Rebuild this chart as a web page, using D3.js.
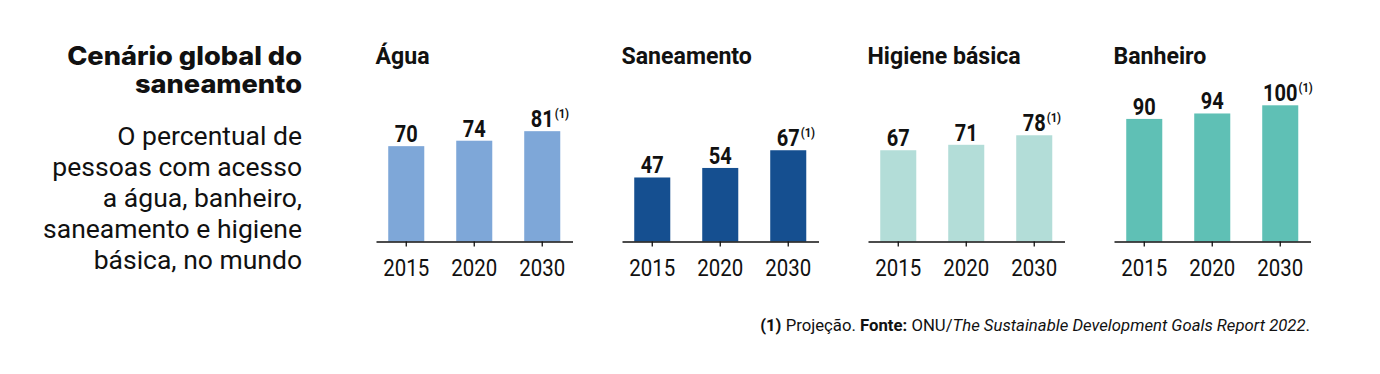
<!DOCTYPE html>
<html><head><meta charset="utf-8">
<script src="https://cdn.jsdelivr.net/npm/d3@7"></script>
<style>
html,body{margin:0;padding:0;background:#fff;}
svg{display:block;}
</style></head>
<body>
<svg id="chart" width="1380" height="374"></svg>
<script>
// ---- data ----
const years = ["2015", "2020", "2030"];
const panelTitles = ["Água", "Saneamento", "Higiene básica", "Banheiro"];
const agua = [70, 74, 81];
const saneamento = [47, 54, 67];
const higiene = [67, 71, 78];
const banheiro = [90, 94, 100];
const projectedYear = "2030";
const titleLines = ["Cenário global do", "saneamento"];
const subtitleLines = ["O percentual de", "pessoas com acesso", "a água, banheiro,", "saneamento e higiene", "básica, no mundo"];

const series = [agua, saneamento, higiene, banheiro];
const colors = ["#7ea7d8", "#154f90", "#b3ddd8", "#5fc0b5"];

const svg = d3.select("#chart");
const ROB = "Roboto, 'Noto Sans', sans-serif";
const INTER = "Inter, Roboto, sans-serif";

function scaleFor(sample, target, attrs) {
  const t = svg.append("text").text(sample);
  Object.entries(attrs).forEach(([k, v]) => t.attr(k, v));
  const w = t.node().getComputedTextLength();
  t.remove();
  return target / w;
}
function putText(parent, x, y, txt, attrs, sx) {
  const g = parent.append("g").attr("transform", `translate(${x},${y}) scale(${sx},1)`);
  const t = g.append("text").text(txt);
  Object.entries(attrs).forEach(([k, v]) => t.attr(k, v));
  return t;
}

const titleStyle = {"font-family": INTER, "font-weight": 800, "font-size": 25.5, "fill": "#111", "text-anchor": "end"};
const subStyle = {"font-family": ROB, "font-weight": 400, "font-size": 25.5, "fill": "#111", "text-anchor": "end"};
const panelStyle = {"font-family": ROB, "font-weight": 700, "font-size": 23.5, "fill": "#111"};
const valStyle = {"font-family": ROB, "font-weight": 700, "font-size": 24.5, "fill": "#111", "text-anchor": "middle"};
const supStyle = {"font-family": ROB, "font-weight": 700, "font-size": 12.5, "fill": "#111"};
const yearStyle = {"font-family": ROB, "font-weight": 400, "font-size": 23.5, "fill": "#111"};
const footStyle = {"font-family": ROB, "font-weight": 400, "font-size": 16, "fill": "#111", "text-anchor": "end"};

const sxTitle = scaleFor("Cenário global do", 235, titleStyle);
const sxSub = scaleFor("saneamento e higiene", 259, subStyle);
const sxPanel = scaleFor("Saneamento", 130.5, panelStyle);
const sxVal = scaleFor("67", 23, valStyle);
const sxYear = scaleFor("2015", 46, yearStyle);

// ---- left title ----
const tl = svg.append("g");
titleLines.forEach((t, i) => putText(tl, 302, 65 + i * 28, t, titleStyle, sxTitle));
subtitleLines.forEach((t, i) => putText(tl, 302, 145 + i * 31, t, subStyle, sxSub));

// ---- panels ----
const y = d3.scaleLinear().domain([0, 100]).range([241.5, 105.3]);
const panelX = d3.scalePoint().domain(panelTitles).range([376, 1114]);

panelTitles.forEach((title, pi) => {
  const x0 = panelX(title);
  const data = years.map((yr, i) => ({ year: yr, value: series[pi][i] }));
  const x = d3.scaleBand().domain(years).range([x0, x0 + 196.5])
    .paddingInner(0.47).paddingOuter(0.18);
  const g = svg.append("g");

  putText(g, x0 - 0.5, 64, title, panelStyle, sxPanel);

  g.selectAll("rect").data(data).join("rect")
    .attr("x", d => x(d.year)).attr("width", x.bandwidth())
    .attr("y", d => y(d.value)).attr("height", d => y(0) - y(d.value))
    .attr("fill", colors[pi]);

  data.forEach(d => {
    const cx = x(d.year) + x.bandwidth() / 2;
    const t = putText(g, cx, y(d.value) - 4, d.value, valStyle, sxVal);
    if (d.year === projectedYear) {
      const w = t.node().getComputedTextLength() * sxVal;
      putText(g, cx + w / 2 + 1, y(d.value) - 13.5, "(1)", supStyle, 0.9);
    }
  });

  const ax = g.append("g").attr("transform", `translate(0,${y(0)})`)
    .call(d3.axisBottom(x).tickSize(5).tickSizeOuter(0).tickPadding(12.5));
  ax.select(".domain").attr("stroke", "#111").attr("stroke-width", 1.5);
  ax.selectAll(".tick line").attr("stroke", "#111").attr("stroke-width", 1.3);
  ax.selectAll(".tick text")
    .attr("font-family", yearStyle["font-family"]).attr("font-weight", yearStyle["font-weight"])
    .attr("font-size", yearStyle["font-size"]).attr("fill", "#111")
    .attr("transform", `scale(${sxYear},1)`);
});

// ---- footnote ----
const fg = svg.append("g");
const fn = fg.append("text");
Object.entries(footStyle).forEach(([k, v]) => fn.attr(k, v));
fn.append("tspan").attr("font-weight", 700).text("(1)");
fn.append("tspan").text(" Projeção. ");
fn.append("tspan").attr("font-weight", 700).text("Fonte:");
fn.append("tspan").text(" ONU/");
fn.append("tspan").attr("font-style", "italic").text("The Sustainable Development Goals Report 2022");
fn.append("tspan").text(".");
const fw = fn.node().getComputedTextLength();
fg.attr("transform", `translate(1310,331) scale(${550 / fw},1)`);
</script>
</body></html>
